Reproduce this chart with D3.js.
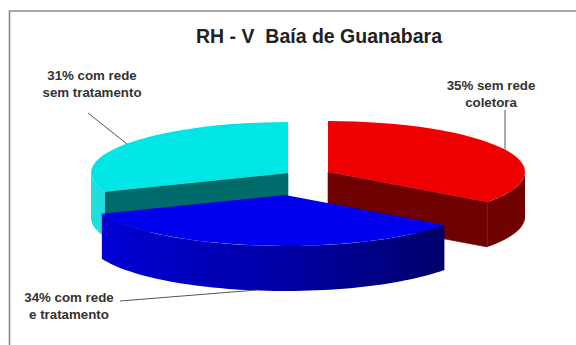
<!DOCTYPE html>
<html>
<head>
<meta charset="utf-8">
<script src="https://cdnjs.cloudflare.com/ajax/libs/d3/7.8.5/d3.min.js"></script>
<style>
  html, body { margin: 0; padding: 0; background: #fff; }
  svg { display: block; }
  text { font-family: "Liberation Sans", Arial, sans-serif; white-space: pre; }
</style>
</head>
<body>
<svg id="chart" width="576" height="345"></svg>
<script>
// Chart content
const chartTitle = "RH - V  Baía de Guanabara";
const sliceNames = ["sem rede coletora", "com rede e tratamento", "com rede sem tratamento"];
const sliceShares = [35, 34, 31];
const sliceLabels = [
  ["35% sem rede", "coletora"],
  ["34% com rede", "e tratamento"],
  ["31% com rede", "sem tratamento"]
];

// Slice styling and exploded centres
const topColors = ["#ee0000", "#0000ee", "#00e6e6"];
const cutColors = ["#6e0000", "#00008a", "#006b6b"];
const wallStops = [
  [["#6e0000", 0], ["#6e0000", 1]],
  [["#0000d4", 0], ["#0000a8", 0.5], ["#00006c", 1]],
  [["#1fdede", 0], ["#1fdede", 1]]
];
const centres = [[328, 172], [285, 195], [288, 173]];
const labelAnchors = [[491, 90], [69, 302], [92, 80]];
const leaders = [
  [[505, 110], [505, 149]],
  [[120, 301], [257, 290]],
  [[88, 113], [127, 144]]
];

// Projection of the tilted pie
const rx = 197, ry = 51, depth = 45;
const svg = d3.select("#chart");
const defs = svg.append("defs");

svg.append("path")
  .attr("d", "M9.5,345V11H576")
  .attr("fill", "none")
  .attr("stroke", "#8a8a8a")
  .attr("stroke-width", 1.6);

const slices = d3.pie().sort(null).startAngle(0).endAngle(2 * Math.PI)(sliceShares);
const topArc = d3.arc().innerRadius(0).outerRadius(rx);
const rim = (c, a, dz = 0) => [c[0] + rx * Math.sin(a), c[1] - ry * Math.cos(a) + dz];
const outline = d3.line();

// Painted back to front: cyan, red, then the blue slice that overlaps both
[2, 0, 1].forEach(i => {
  const s = slices[i], c = centres[i];
  const g = svg.append("g").attr("class", "slice").attr("data-name", sliceNames[i]);

  // The visible stretch of the outer wall faces the viewer (angles between 90 and 270 degrees)
  const a0 = Math.max(s.startAngle, Math.PI / 2);
  const a1 = Math.min(s.endAngle, 3 * Math.PI / 2);
  const sweep = d3.range(0, 61).map(k => a0 + (a1 - a0) * k / 60);

  const gradId = "wall-" + i;
  const xs = sweep.map(a => rim(c, a)[0]);
  const grad = defs.append("linearGradient")
    .attr("id", gradId)
    .attr("gradientUnits", "userSpaceOnUse")
    .attr("x1", d3.min(xs)).attr("x2", d3.max(xs))
    .attr("y1", 0).attr("y2", 0);
  wallStops[i].forEach(([color, at]) =>
    grad.append("stop").attr("offset", at).attr("stop-color", color));

  // Cut faces along the slice edges that turn toward the viewer
  [s.startAngle, s.endAngle].forEach(a => {
    const onFront = i === 0 ? a === s.endAngle : (i === 2 ? a === s.startAngle : false);
    if (!onFront) return;
    const p = rim(c, a);
    g.append("path")
      .attr("d", outline([c, p, [p[0], p[1] + depth], [c[0], c[1] + depth]]) + "Z")
      .attr("fill", cutColors[i])
      .attr("stroke", cutColors[i])
      .attr("stroke-width", 0.6);
  });

  const wall = sweep.map(a => rim(c, a)).concat(sweep.slice().reverse().map(a => rim(c, a, depth)));
  g.append("path")
    .attr("d", outline(wall) + "Z")
    .attr("fill", `url(#${gradId})`);

  // Top face: a regular arc flattened into the ellipse of the view
  g.append("path")
    .attr("transform", `translate(${c[0]},${c[1]}) scale(1,${ry / rx})`)
    .attr("d", topArc({ startAngle: s.startAngle, endAngle: s.endAngle }))
    .attr("fill", topColors[i]);
});

// Leader lines
svg.append("g").selectAll("line")
  .data(leaders)
  .join("line")
  .attr("x1", d => d[0][0]).attr("y1", d => d[0][1])
  .attr("x2", d => d[1][0]).attr("y2", d => d[1][1])
  .attr("stroke", "#555")
  .attr("stroke-width", 1);

// Slice labels
const labelGroup = svg.append("g");
sliceLabels.forEach((lines, i) => {
  lines.forEach((line, j) => {
    labelGroup.append("text")
      .attr("x", labelAnchors[i][0])
      .attr("y", labelAnchors[i][1] + j * 16.5)
      .attr("text-anchor", "middle")
      .attr("font-size", 13.3)
      .attr("font-weight", "bold")
      .attr("fill", "#333")
      .text(line);
  });
});

// Title
svg.append("text")
  .attr("x", 319)
  .attr("y", 43)
  .attr("text-anchor", "middle")
  .attr("font-size", 19.5)
  .attr("font-weight", "bold")
  .attr("fill", "#222")
  .text(chartTitle);
</script>
</body>
</html>
